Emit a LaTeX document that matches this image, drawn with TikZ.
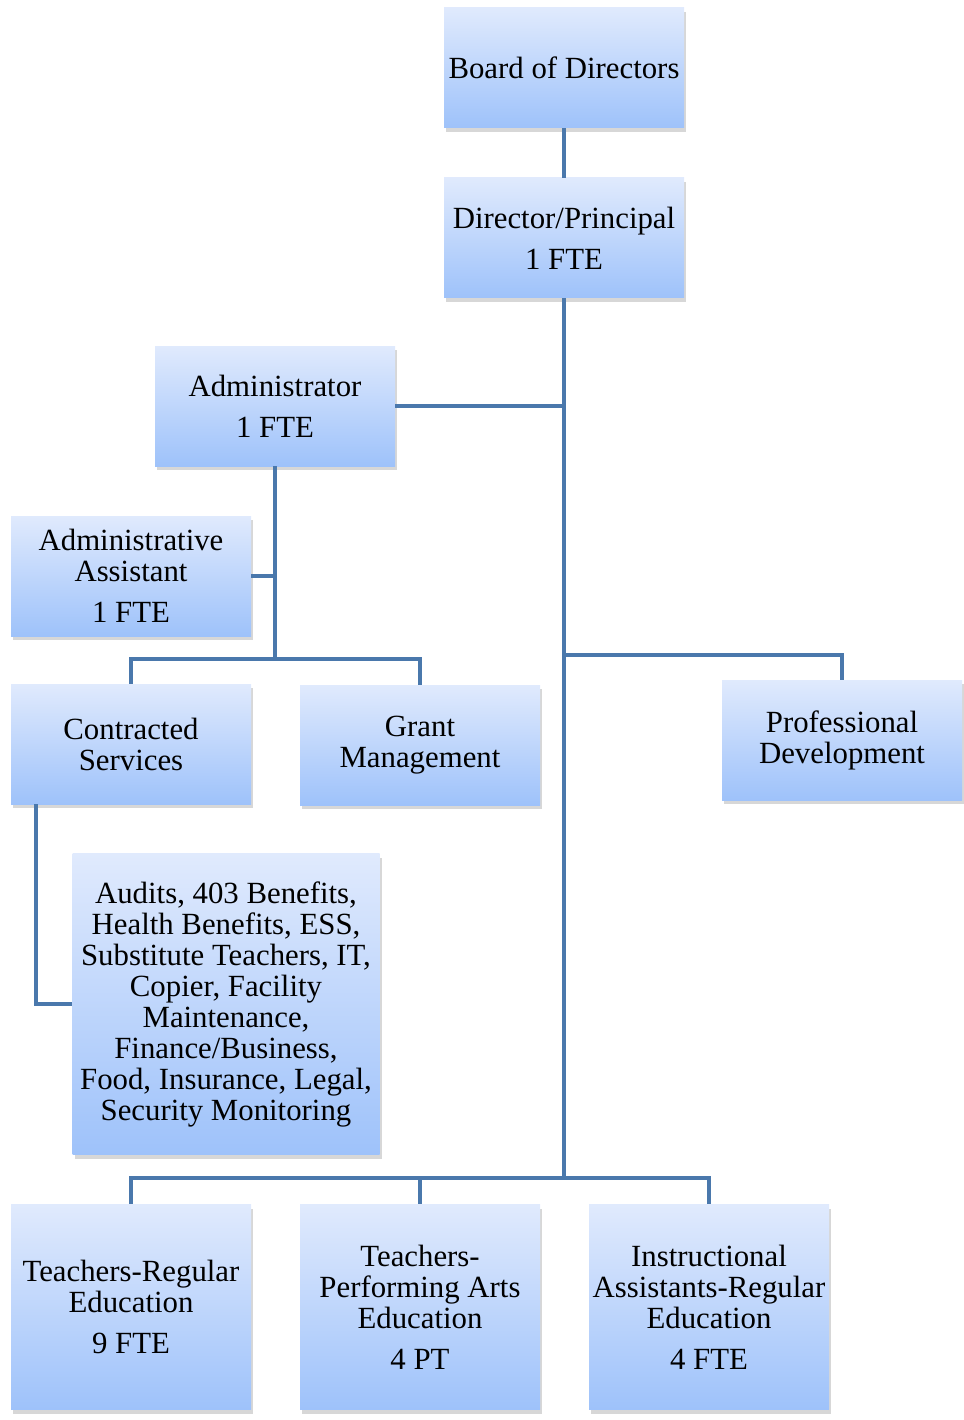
\documentclass[tikz,border=0pt]{standalone}
\usepackage{fontspec}
\setmainfont{Liberation Serif}
\usepackage{tikz}
\usetikzlibrary{positioning,shadows,calc}
\definecolor{boxtop}{RGB}{224,234,253}
\definecolor{boxbottom}{RGB}{158,194,250}
\definecolor{linkblue}{RGB}{74,120,172}
\tikzset{%
	unit/.style = {rectangle, minimum width=240pt, minimum height=120pt, inner sep=0pt, align=center,
		top color=boxtop, bottom color=boxbottom, font=\fontsize{30.8pt}{31pt}\selectfont,
		drop shadow={shadow xshift=2pt, shadow yshift=-4pt, fill=black!45, opacity=.35}},
	tall/.style = {unit, minimum height=205pt},
	link/.style = {line width=4pt, draw=linkblue},
}

\begin{document}
\begin{tikzpicture}[x=1pt,y=-1pt]
		\useasboundingbox (0,0) rectangle (963,1420);
		% boxes
		\node[unit] (board) at (564,68) {Board of Directors};
		\node[unit] (director) at (564,238) {Director/Principal\\[10pt]1 FTE};
		\node[unit] (admin) at (275,406) {Administrator\\[10pt]1 FTE};
		\node[unit] (assistant) at (131,576) {Administrative\\Assistant\\[10pt]1 FTE};
		\node[unit] (contracted) at (131,744) {Contracted\\Services};
		\node[unit] (grant) at (420,745) {Grant\\Management};
		\node[unit] (profdev) at (842,740) {Professional\\Development};
		\node[unit, minimum width=307pt, minimum height=301pt] (audits) at (226,1004) {Audits, 403 Benefits,\\Health Benefits, ESS,\\Substitute Teachers, IT,\\Copier, Facility\\Maintenance,\\Finance/Business,\\Food, Insurance, Legal,\\Security Monitoring};
		\node[tall] (teachreg) at (131,1307) {Teachers-Regular\\Education\\[10pt]9 FTE};
		\node[tall] (teacharts) at (420,1307) {Teachers-\\Performing Arts\\Education\\[10pt]4 PT};
		\node[tall] (instruct) at (709,1307) {Instructional\\Assistants-Regular\\Education\\[10pt]4 FTE};
		% junctions
		\coordinate (pdjoin) at (564,655);
		\coordinate (adbus) at (275,659);
		\coordinate (bus) at (564,1178);
		% connectors
		\draw[link] (board) -- (director);
		\draw[link] (director.south) -- (bus);
		\draw[link] (admin.east) -- (admin.east -| director.south);
		\draw[link] (pdjoin) -| (profdev.north);
		\draw[link] (admin.south) -- (adbus);
		\draw[link] (assistant.east) -- (assistant.east -| adbus);
		\draw[link] (adbus) -| (contracted.north);
		\draw[link] (adbus) -| (grant.north);
		\draw[link] ([xshift=-95pt]contracted.south) |- (audits.west);
		\draw[link] (bus) -| (teachreg.north);
		\draw[link] (bus) -| (teacharts.north);
		\draw[link] (bus) -| (instruct.north);
		\end{tikzpicture}
\end{document}
